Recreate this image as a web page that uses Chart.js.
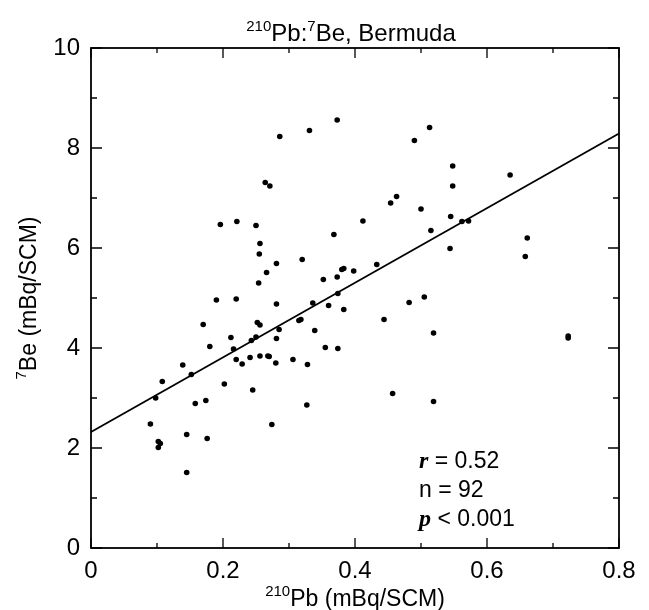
<!DOCTYPE html>
<html>
<head>
<meta charset="utf-8">
<script src="https://cdn.jsdelivr.net/npm/chart.js@4"></script>
<style>
  html, body { margin: 0; background: #fff; }
</style>
</head>
<body>
<canvas id="myChart" width="649" height="610"></canvas>
<script>
// 210Pb vs 7Be samples
const pb210 = [
  0.264, 0.271, 0.286, 0.331, 0.373, 0.490, 0.513, 0.454, 0.463, 0.500,
  0.548, 0.548, 0.635, 0.545, 0.196, 0.221, 0.250, 0.256, 0.255, 0.266,
  0.254, 0.190, 0.220, 0.170, 0.252, 0.256, 0.212, 0.250, 0.243, 0.180,
  0.216, 0.220, 0.229, 0.241, 0.256, 0.268, 0.139, 0.152, 0.108, 0.202,
  0.245, 0.281, 0.320, 0.368, 0.412, 0.515, 0.352, 0.373, 0.380, 0.383,
  0.398, 0.433, 0.281, 0.336, 0.374, 0.360, 0.383, 0.285, 0.281, 0.315,
  0.318, 0.339, 0.355, 0.374, 0.444, 0.482, 0.505, 0.519, 0.270, 0.280,
  0.306, 0.328, 0.562, 0.572, 0.544, 0.661, 0.658, 0.723, 0.723, 0.098,
  0.158, 0.174, 0.090, 0.145, 0.176, 0.102, 0.105, 0.102, 0.145, 0.274,
  0.327, 0.457, 0.519
];
const be7 = [
  7.31, 7.24, 8.23, 8.35, 8.56, 8.15, 8.41, 6.90, 7.03, 6.78,
  7.64, 7.24, 7.46, 6.63, 6.47, 6.53, 6.45, 6.09, 5.88, 5.51,
  5.30, 4.96, 4.98, 4.47, 4.51, 4.46, 4.21, 4.22, 4.15, 4.03,
  3.98, 3.77, 3.68, 3.81, 3.84, 3.84, 3.66, 3.47, 3.33, 3.28,
  3.16, 5.69, 5.77, 6.27, 6.54, 6.35, 5.37, 5.42, 5.57, 5.59,
  5.54, 5.67, 4.88, 4.90, 5.09, 4.85, 4.77, 4.37, 4.19, 4.55,
  4.57, 4.35, 4.01, 3.99, 4.57, 4.91, 5.02, 4.30, 3.83, 3.70,
  3.77, 3.67, 6.53, 6.54, 5.99, 6.20, 5.83, 4.24, 4.20, 3.00,
  2.89, 2.95, 2.48, 2.27, 2.19, 2.13, 2.09, 2.01, 1.51, 2.47,
  2.86, 3.09, 2.93
];

// regression line end points
const fitX = [0, 0.8];
const fitY = [2.32, 8.29];

const statNames = ['r', 'n', 'p'];
const statValues = ['= 0.52', '= 92', '< 0.001'];

// titles with superscript mass numbers: [text, isSuperscript]
const chartTitle = [['210', true], ['Pb:', false], ['7', true], ['Be, Bermuda', false]];
const xTitle = [['210', true], ['Pb (mBq/SCM)', false]];
const yTitle = [['7', true], ['Be (mBq/SCM)', false]];

const SANS = '"Liberation Sans", Arial, sans-serif';

// draws a line of text with raised small parts, centred on (cx, baseline)
function drawRich(ctx, parts, cx, baseline, size) {
  const sup = Math.round(size * 0.64);
  let w = 0;
  parts.forEach(([t, s]) => {
    ctx.font = (s ? sup : size) + 'px ' + SANS;
    w += ctx.measureText(t).width;
  });
  let x = cx - w / 2;
  ctx.textAlign = 'left';
  ctx.textBaseline = 'alphabetic';
  parts.forEach(([t, s]) => {
    ctx.font = (s ? sup : size) + 'px ' + SANS;
    ctx.fillText(t, x, s ? baseline - size * 0.43 : baseline);
    x += ctx.measureText(t).width;
  });
}

// boxed frame with inward ticks on all sides, titles and the stats block
const framePlugin = {
  id: 'frame',
  afterDraw(chart) {
    const { ctx, chartArea: a, scales: { x, y } } = chart;
    ctx.save();
    ctx.strokeStyle = '#000';
    ctx.lineWidth = 1.8;
    ctx.strokeRect(a.left, a.top, a.right - a.left, a.bottom - a.top);

    ctx.lineWidth = 1.3;
    ctx.beginPath();
    for (let i = 0; i <= 8; i++) {
      const px = x.getPixelForValue(i / 10);
      const len = i % 2 ? 5 : 10;
      ctx.moveTo(px, a.bottom); ctx.lineTo(px, a.bottom - len);
      ctx.moveTo(px, a.top); ctx.lineTo(px, a.top + len);
    }
    for (let i = 0; i <= 10; i++) {
      const py = y.getPixelForValue(i);
      const len = i % 2 ? 6 : 11;
      ctx.moveTo(a.left, py); ctx.lineTo(a.left + len, py);
      ctx.moveTo(a.right, py); ctx.lineTo(a.right - len, py);
    }
    ctx.stroke();

    ctx.fillStyle = '#000';
    const mid = (a.left + a.right) / 2;
    drawRich(ctx, chartTitle, mid - 4, a.top - 7, 24);
    drawRich(ctx, xTitle, mid, a.bottom + 58, 23);
    ctx.save();
    ctx.translate(36, (a.top + a.bottom) / 2);
    ctx.rotate(-Math.PI / 2);
    drawRich(ctx, yTitle, 0, 0, 23);
    ctx.restore();

    // r / n / p text
    ctx.textAlign = 'left';
    ctx.textBaseline = 'alphabetic';
    const x0 = x.getPixelForValue(0.497);
    const rows = [1.6, 1.02, 0.44];
    statNames.forEach((name, i) => {
      const py = y.getPixelForValue(rows[i]);
      ctx.font = name === 'n' ? '23px ' + SANS : 'italic bold 24px "Liberation Serif", serif';
      ctx.fillText(name, x0, py);
      const w = ctx.measureText(name).width;
      ctx.font = '23px ' + SANS;
      ctx.fillText(' ' + statValues[i], x0 + w, py);
    });
    ctx.restore();
  }
};

document.addEventListener('DOMContentLoaded', function () {
  const ctx = document.getElementById('myChart');

  new Chart(ctx, {
    type: 'scatter',
    data: {
      datasets: [
        {
          label: 'samples',
          data: pb210.map((v, i) => ({ x: v, y: be7[i] })),
          backgroundColor: '#000',
          borderColor: '#000',
          pointRadius: 2.8,
          pointHoverRadius: 2.8,
          borderWidth: 0
        },
        {
          type: 'line',
          label: 'fit',
          data: fitX.map((v, i) => ({ x: v, y: fitY[i] })),
          borderColor: '#000',
          borderWidth: 1.8,
          pointRadius: 0,
          fill: false
        }
      ]
    },
    options: {
      responsive: false,
      animation: false,
      layout: { padding: { left: 0, right: 30, top: 48, bottom: 0 } },
      plugins: {
        legend: { display: false },
        tooltip: { enabled: false }
      },
      scales: {
        x: {
          type: 'linear',
          min: 0,
          max: 0.8,
          afterFit: s => { s.height = 62; },
          grid: { display: false, drawTicks: false },
          border: { display: false },
          ticks: {
            stepSize: 0.2,
            padding: 9,
            color: '#000',
            font: { family: SANS, size: 24 },
            callback: v => String(+v.toFixed(1))
          }
        },
        y: {
          min: 0,
          max: 10,
          afterFit: s => { s.width = 91; },
          grid: { display: false, drawTicks: false },
          border: { display: false },
          ticks: {
            stepSize: 2,
            padding: 11,
            color: '#000',
            font: { family: SANS, size: 24 }
          }
        }
      }
    },
    plugins: [framePlugin]
  });
});
</script>
</body>
</html>
